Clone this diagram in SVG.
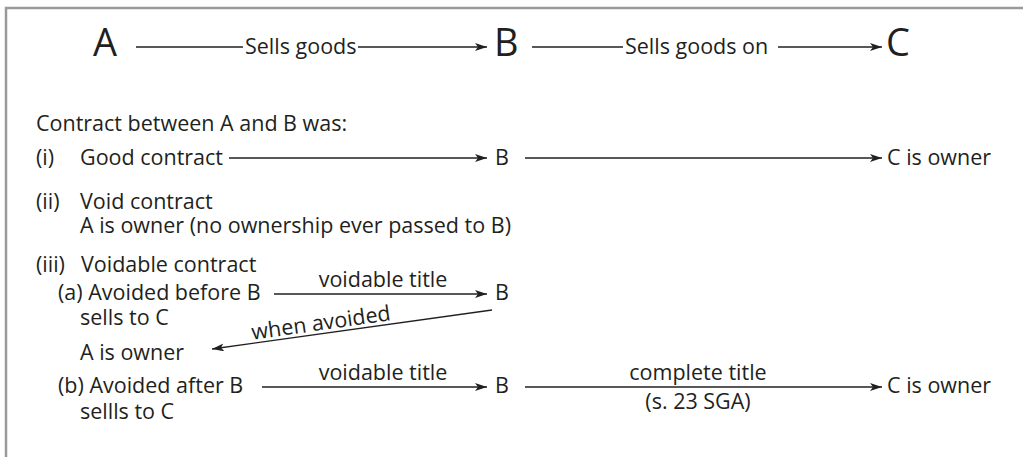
<svg xmlns="http://www.w3.org/2000/svg" width="1023" height="457" viewBox="0 0 1023 457">
<style>
text{font-family:"Open Sans","Noto Sans",sans-serif;font-size:21.5px;fill:#231f20}
.big{font-size:38px}
.ln{stroke:#231f20;stroke-width:1.3;fill:none}
</style>
<defs>
<marker id="ah" viewBox="0 0 12 8" refX="12" refY="4" markerWidth="12" markerHeight="8" markerUnits="userSpaceOnUse" orient="auto">
<path d="M0,0 L12,4 L0,8 L3,4 Z" fill="#231f20"/>
</marker>
</defs>
<rect width="1023" height="457" fill="#fff"/>
<path d="M6,457 V8 H1023" fill="none" stroke="#9a9a9a" stroke-width="2.5"/>
<g id="connectors">
<path class="ln" d="M136,47 H243"/>
<path class="ln" d="M358,47 H487" marker-end="url(#ah)"/>
<path class="ln" d="M532,47 H623"/>
<path class="ln" d="M778,47 H882" marker-end="url(#ah)"/>
<path class="ln" d="M229,158 H487" marker-end="url(#ah)"/>
<path class="ln" d="M525,158 H882" marker-end="url(#ah)"/>
<path class="ln" d="M274,294 H487" marker-end="url(#ah)"/>
<path class="ln" d="M492,310 L212,349" marker-end="url(#ah)"/>
<path class="ln" d="M262,387 H487" marker-end="url(#ah)"/>
<path class="ln" d="M525,387 H882" marker-end="url(#ah)"/>
</g>
<g id="top">
<text class="big" x="93" y="56">A</text>
<text x="245" y="54">Sells goods</text>
<text class="big" x="494" y="56">B</text>
<text x="625" y="54">Sells goods on</text>
<text class="big" x="886" y="56">C</text>
</g>
<g id="intro"><text x="36" y="131">Contract between A and B was:</text></g>
<g id="case-i">
<text x="36" y="165">(i)</text>
<text x="80" y="165">Good contract</text>
<text x="495" y="165">B</text>
<text x="887" y="165">C is owner</text>
</g>
<g id="case-ii">
<text x="36" y="209">(ii)</text>
<text x="80" y="209">Void contract</text>
<text x="80" y="233">A is owner (no ownership ever passed to B)</text>
</g>
<g id="case-iii">
<text x="36" y="272">(iii)</text>
<text x="81" y="272">Voidable contract</text>
<text x="58" y="300">(a) Avoided before B</text>
<text x="80" y="325">sells to C</text>
<text x="383" y="287" text-anchor="middle">voidable title</text>
<text x="495" y="300">B</text>
<text x="322" y="330" text-anchor="middle" transform="rotate(-8 322 330)">when avoided</text>
<text x="80" y="360">A is owner</text>
<text x="58" y="393">(b) Avoided after B</text>
<text x="80" y="419">sellls to C</text>
<text x="383" y="380" text-anchor="middle">voidable title</text>
<text x="495" y="393">B</text>
<text x="698" y="380" text-anchor="middle">complete title</text>
<text x="698" y="409" text-anchor="middle">(s. 23 SGA)</text>
<text x="887" y="393">C is owner</text>
</g>
</svg>
